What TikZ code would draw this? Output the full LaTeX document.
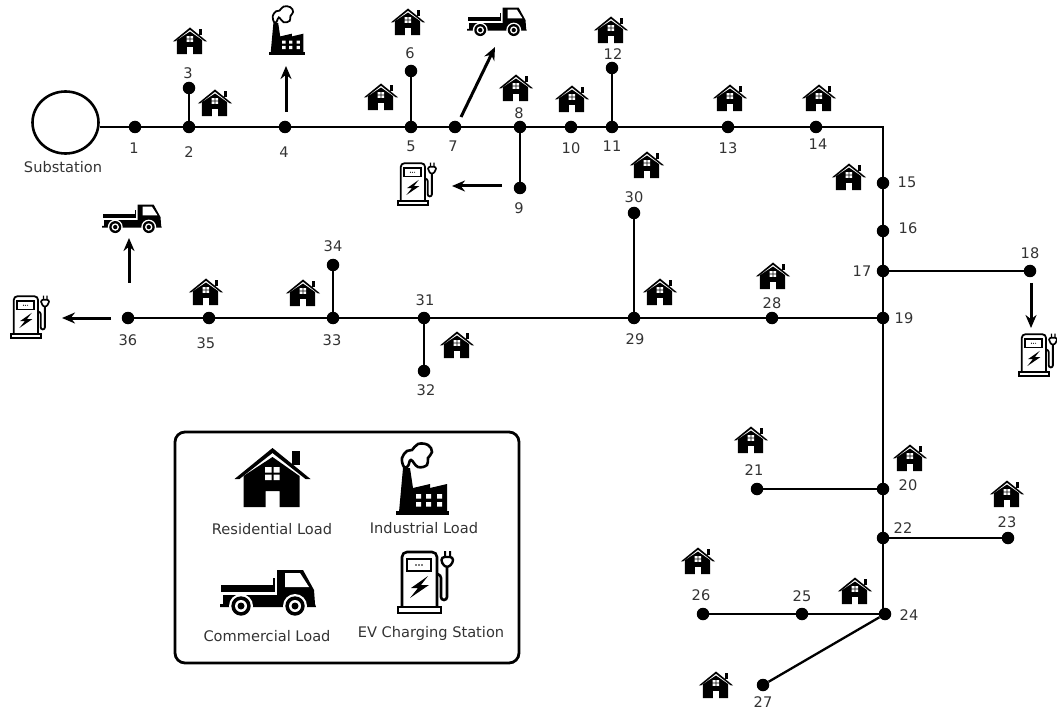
\documentclass[tikz,border=0pt]{standalone}
\usepackage{fontspec}
\setmainfont{DejaVu Sans}
\usetikzlibrary{shapes.geometric, arrows.meta}
\definecolor{labelgray}{gray}{0.2}
\tikzset{
  bus/.style={circle, fill=black, inner sep=0pt, minimum size=12.5pt},
  num/.style={font=\fontsize{14.6}{16}\selectfont, text=labelgray, inner sep=0pt},
  feeder/.style={line width=2.3pt},
  loadarrow/.style={line width=3pt, -{Stealth[length=13pt, width=11pt]}},
  pics/house/.style={code={
    \begin{scope}[scale=#1]
      \fill (19,-27) rectangle (27,-13);
      \fill[white] (15,-18) -- (0,-25) -- (33,1) -- (27,1) -- cycle;
      \fill (-38,1) -- (0,-30) -- (38,1) -- (33,1) -- (0,-25) -- (-33,1) -- cycle;
      \fill (-29,29) -- (-29,-2) -- (0,-21) -- (27,-2) -- (27,29) -- (7,29) -- (7,13) -- (-7,13) -- (-7,29) -- cycle;
      \fill[white] (-7.5,-11) rectangle (-1,-5.5) (1,-11) rectangle (7,-5.5)
                   (-7.5,-3.5) rectangle (-1,2) (1,-3.5) rectangle (7,2);
    \end{scope}}},
  pics/factory/.style={code={
    \begin{scope}[scale=#1]
      \fill (-27,31) rectangle (26,35);
      \fill (-24,32) -- (-20,-12) -- (-13,-12) -- (-10,8) -- (7,4) -- (7,8) -- (24,4) -- (24,32) -- cycle;
      \fill[white] \foreach \wx in {-7,3,14} {\foreach \wy in {14,22} {(\wx,\wy) rectangle ++(5,4.5)}};
      \draw[line width={#1*2.6pt}, fill=white] plot[smooth cycle, tension=.7] coordinates
        {(-19,-13) (-21,-22) (-16,-29) (-11,-30) (-5,-36) (5,-35) (9,-28) (5,-22) (4,-15) (-5,-13) (-12,-20) (-15,-14)};
    \end{scope}}},
  pics/truck/.style={code={
    \begin{scope}[scale=#1]
      \fill (-47,-8) rectangle (7,-1);
      \fill (5,-15) rectangle (7,-1);
      \fill (-45,2) -- (9,2) -- (9,-23) -- (35,-23) -- (46,-3) -- (47,11) -- (48,14) -- (-48,14) -- (-48,11) -- (-45,11) -- cycle;
      \fill[white] (17,-20) -- (32,-20) -- (41,-6) -- (17,-6) -- cycle;
      \foreach \wx in {-27,27} {
        \fill[white] (\wx,13) circle (12);
        \fill (\wx,13) circle (9.7);
        \fill[white] (\wx,13) circle (6);
        \fill (\wx,13) circle (3.5);
      }
    \end{scope}}},
  pics/charger/.style={code={
    \begin{scope}[scale=#1]
      \draw[line width={#1*2.6pt}, rounded corners={#1*3pt}] (13,-8) -- (17,-7) -- (17,18) -- (23,18) -- (23,-15);
      \draw[line width={#1*2.6pt}, fill=white, rounded corners={#1*5pt}] (-22,25) -- (-22,-30) -- (13,-30) -- (13,25);
      \draw[line width={#1*2.6pt}, fill=white] (-26,25) rectangle (17,31);
      \draw[line width={#1*2.4pt}] (-17,-23) rectangle (7,-11);
      \fill (-8,-17) circle (.8) (-5,-17) circle (.8) (-2,-17) circle (.8);
      \fill (4,-6) -- (-13,6) -- (-6,6) -- (-14,16) -- (5,3) -- (-3,3) -- cycle;
      \draw[line width={#1*2.4pt}, fill=white, rounded corners={#1*3pt}] (17.5,-25) -- (17.5,-19) -- (23,-14) -- (29,-19) -- (29,-25) -- cycle;
      \fill (20,-31) rectangle (22,-25) (25,-31) rectangle (27,-25);
    \end{scope}}}
}
\begin{document}
\begin{tikzpicture}[x=1pt, y=-1pt]
  \useasboundingbox (0,0) rectangle (1057,711);

  % substation and buses
  \node[ellipse, draw, line width=2.6pt, minimum width=66pt, minimum height=62pt, inner sep=0pt] (sub) at (65.5,122.5) {};
  \node[num] (sublabel) at (63,167) {Substation};
  \foreach \n/\x/\y/\lx/\ly in {1/135/127/134/148, 2/189/127/189/152, 3/189/88/188/73, 4/285/127/284/152,
      5/411/127/411/146, 6/411/71/410/53, 7/455/127/453/146, 8/520/127/519/113, 9/520/188/519/208,
      10/571/127/571/148, 11/612/127/612/146, 12/612/68/613/54, 13/728/127/728/148, 14/816/127/818/144,
      15/883/183/907/182, 16/883/231/908/228, 17/883/271/862/271, 18/1030/271/1030/253, 19/883/318/904/318,
      20/883/489/908/485, 21/757/489/754/470, 22/883/538/903/528, 23/1008/538/1007/522, 24/885/614/909/615,
      25/802/614/802/596, 26/703/614/701/595, 27/763/685/763/702, 28/772/318/772/303, 29/634/318/635/339,
      30/634/213/634/197, 31/424/318/425/300, 32/424/371/426/390, 33/333/318/332/340, 34/333/265/333/246,
      35/209/318/206/343, 36/128/318/128/340}
    {
      \node[bus] (b\n) at (\x,\y) {};
      \node[num] (l\n) at (\lx,\ly) {\n};
    }

  % feeders
  \coordinate (corner) at (883,127);
  \coordinate (foot) at (883,614);
  \draw[feeder] (sub.east |- b1) -- (b1) -- (b2) -- (b4) -- (b5) -- (b7) -- (b8) -- (b10) -- (b11) -- (b13) -- (b14) -- (corner)
    -- (b15) -- (b16) -- (b17) -- (b19) -- (b20) -- (b22) -- (foot) -- (b24);
  \draw[feeder] (b2) -- (b3);
  \draw[feeder] (b5) -- (b6);
  \draw[feeder] (b8) -- (b9);
  \draw[feeder] (b11) -- (b12);
  \draw[feeder] (b17) -- (b18);
  \draw[feeder] (b19) -- (b28) -- (b29) -- (b31) -- (b33) -- (b35) -- (b36);
  \draw[feeder] (b29) -- (b30);
  \draw[feeder] (b31) -- (b32);
  \draw[feeder] (b33) -- (b34);
  \draw[feeder] (b20) -- (b21);
  \draw[feeder] (b22) -- (b23);
  \draw[feeder] (b24) -- (b25) -- (b26);
  \draw[feeder] (b24) -- (b27);

  % arrows to the loads
  \coordinate (a4s) at (286,112);   \coordinate (a4e) at (286,66);
  \coordinate (a7s) at (461,117);   \coordinate (a7e) at (495,47);
  \coordinate (a9s) at (502,186);   \coordinate (a9e) at (452,186);
  \coordinate (a18s) at (1031,283); \coordinate (a18e) at (1031,328);
  \coordinate (a36s) at (111,318);  \coordinate (a36e) at (62,318);
  \coordinate (a36us) at (129,283); \coordinate (a36ue) at (129,238);
  \foreach \p in {a4, a7, a9, a18, a36, a36u} \draw[loadarrow] (\p s) -- (\p e);

  % loads on the network
  \foreach \x/\y in {190/41, 215/103, 381/97, 408/22, 516/88, 572/99, 611/30, 647/165, 730/98, 819/98, 849/177,
      660/292, 773/276, 457/345, 303/293, 206/292, 751/440, 910/458, 1007/494, 698/561, 855/591, 716/685}
    \pic at (\x,\y) {house=.45};
  \pic at (287,31) {factory=.68};
  \pic at (497,22) {truck=.62};
  \pic at (132,219) {truck=.62};
  \pic at (416,184) {charger=.69};
  \pic at (29,317) {charger=.69};
  \pic at (1037,355) {charger=.69};

  % legend
  \node[draw, line width=2.8pt, rounded corners=10pt, minimum width=344pt, minimum height=231pt] (legend) at (347,547.5) {};
  \pic at (272.5,478) {house=1};
  \pic at (423,480) {factory=1};
  \pic at (268,593) {truck=1};
  \pic at (424,582) {charger=1};
  \node[num] (resload) at (272,529) {Residential Load};
  \node[num] (indload) at (424,528) {Industrial Load};
  \node[num] (comload) at (267,636) {Commercial Load};
  \node[num] (evload) at (431,633) {EV Charging Station};
\end{tikzpicture}
\end{document}
